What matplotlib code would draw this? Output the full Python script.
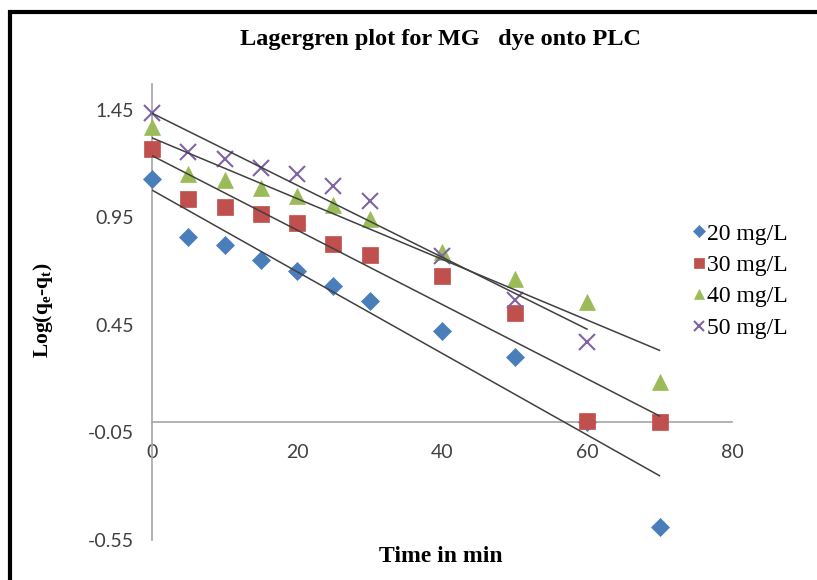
import numpy as np
import matplotlib
matplotlib.use("Agg")
import matplotlib.pyplot as plt
from matplotlib.patches import Rectangle

plt.rcParams['mathtext.fontset'] = 'custom'
plt.rcParams['mathtext.rm'] = 'Liberation Serif'
plt.rcParams['mathtext.bf'] = 'Liberation Serif:bold'
plt.rcParams['mathtext.it'] = 'Liberation Serif:italic'

# ---- data ----
time_20 = [0, 5, 10, 15, 20, 25, 30, 40, 50, 60, 70]
log_20 = [1.13, 0.86, 0.82, 0.75, 0.70, 0.63, 0.56, 0.42, 0.30, 0.0, -0.49]

time_30 = [0, 5, 10, 15, 20, 25, 30, 40, 50, 60, 70]
log_30 = [1.27, 1.035, 1.0, 0.965, 0.925, 0.827, 0.776, 0.678, 0.506, 0.005, 0.0]

time_40 = [0, 5, 10, 15, 20, 25, 30, 40, 50, 60, 70]
log_40 = [1.37, 1.152, 1.124, 1.087, 1.05, 1.008, 0.943, 0.79, 0.664, 0.557, 0.185]

time_50 = [0, 5, 10, 15, 20, 25, 30, 40, 50, 60]
log_50 = [1.436, 1.255, 1.222, 1.18, 1.152, 1.096, 1.027, 0.771, 0.566, 0.371]

series_labels = ['20 mg/L', '30 mg/L', '40 mg/L', '50 mg/L']
x_ticks = [0, 20, 40, 60, 80]
y_ticks = [-0.55, -0.05, 0.45, 0.95, 1.45]

title = 'Lagergren plot for MG   dye onto PLC'
xlabel = 'Time in min'
ylabel = r'Log(q$_{\mathbf{e}}$-q$_{\mathbf{t}}$)'

# ---- figure ----
W, H = 817, 580
fig = plt.figure(figsize=(W / 100, H / 100), dpi=100)
fig.patch.set_facecolor('white')

# outer frame (cropped at right/bottom in the reference)
frame = Rectangle((10 / W, -0.05), 1.2, 1 - 11.5 / H + 0.05, transform=fig.transFigure,
                  fill=False, edgecolor='black', linewidth=3, zorder=0)
fig.patches.append(frame)

ax = fig.add_axes([152 / W, 40 / H, 580 / W, 456 / H])
ax.set_xlim(0, 80)
ax.set_ylim(-0.55, 1.57)

styles = [
    dict(marker='D', color='#4a7ebb', ms=9.5, mec='#4a7ebb'),
    dict(marker='s', color='#c0504d', ms=11.5, mec='#c0504d'),
    dict(marker='^', color='#9bbb59', ms=12, mec='#9bbb59'),
    dict(marker='x', color='#8064a2', ms=12, mec='#8064a2', mew=1.5),
]
datasets = [(time_20, log_20), (time_30, log_30), (time_40, log_40), (time_50, log_50)]

handles = []
for (xs, ys), st, lab in zip(datasets, styles, series_labels):
    h, = ax.plot(xs, ys, linestyle='none', marker=st['marker'], color=st['color'],
                 markersize=st['ms'], markeredgecolor=st['mec'],
                 markeredgewidth=st.get('mew', 0.5), label=lab, zorder=3, clip_on=False)
    handles.append(h)

for xs, ys in datasets:
    xa = np.array(xs, dtype=float)
    ya = np.array(ys, dtype=float)
    m, b = np.polyfit(xa, ya, 1)
    xx = np.array([xa.min(), xa.max()])
    ax.plot(xx, m * xx + b, color='#404040', linewidth=1.1, zorder=4)

# axes styling: axis lines cross at 0
for s in ['top', 'right']:
    ax.spines[s].set_visible(False)
ax.spines['left'].set_position(('data', 0))
ax.spines['bottom'].set_position(('data', 0))
ax.spines['left'].set_color('#a6a6a6')
ax.spines['bottom'].set_color('#a6a6a6')
ax.spines['left'].set_linewidth(1.2)
ax.spines['bottom'].set_linewidth(1.2)

ax.set_xticks(x_ticks)
ax.set_yticks(y_ticks)
ax.set_xticklabels([str(v) for v in x_ticks])
ax.set_yticklabels([f'{v:.2f}' for v in y_ticks])
ax.tick_params(axis='both', length=0, labelsize=14, labelcolor='#404040')
ax.tick_params(axis='x', pad=16)
ax.tick_params(axis='y', pad=13)
for lab in ax.get_xticklabels() + ax.get_yticklabels():
    lab.set_fontfamily('Lato')

fig.text(440 / W, 1 - 40 / H, title, ha='center', va='center',
         fontsize=17.5, fontweight='bold', family='Liberation Serif')
fig.text(441 / W, 1 - 556 / H, xlabel, ha='center', va='center',
         fontsize=17, fontweight='bold', family='Liberation Serif')
fig.text(43 / W, 1 - 310 / H, ylabel, ha='center', va='center', rotation=90,
         fontsize=15.5, fontweight='bold', family='Liberation Serif')

leg = fig.legend(handles=handles, loc='center left', bbox_to_anchor=(681 / W, 1 - 281 / H),
                 frameon=False, prop={'family': 'Liberation Serif', 'size': 17},
                 handlelength=0.5, handletextpad=0.1, labelspacing=0.42, markerscale=0.65,
                 borderpad=0)

fig.savefig('out.png', dpi=100, facecolor='white')
